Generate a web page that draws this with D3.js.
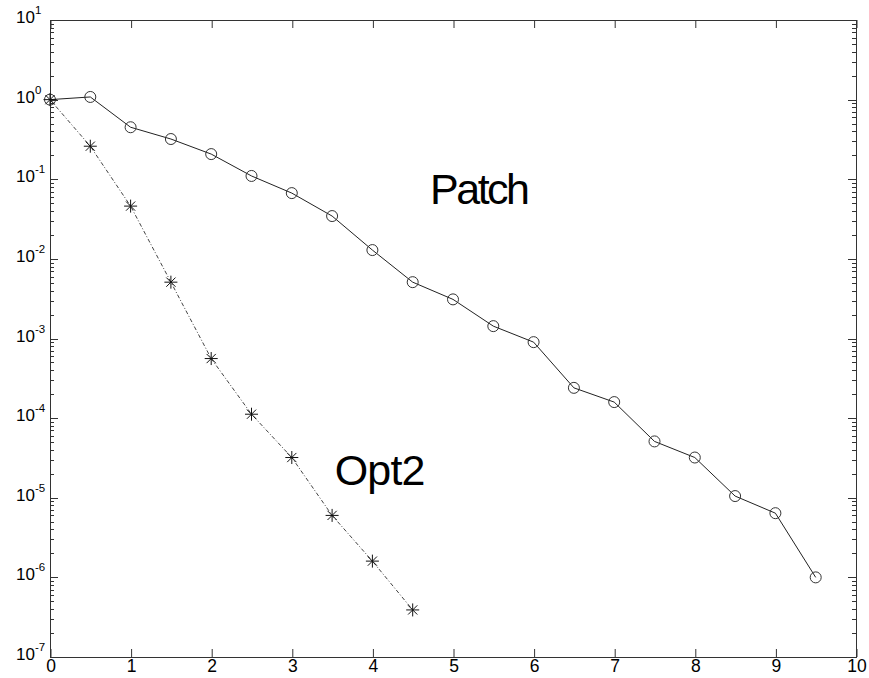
<!DOCTYPE html>
<html><head><meta charset="utf-8">
<script src="https://cdn.jsdelivr.net/npm/d3@7"></script>
<style>body{margin:0;background:#fff}svg{display:block}</style>
</head><body>
<svg id="c" width="869" height="678"></svg>
<script>
const xTicks = [0,1,2,3,4,5,6,7,8,9,10];
const yExponents = [-7,-6,-5,-4,-3,-2,-1,0,1];
const patchX = [0,0.5,1,1.5,2,2.5,3,3.5,4,4.5,5,5.5,6,6.5,7,7.5,8,8.5,9,9.5];
const patchY = [1.0,1.08,0.45,0.32,0.207,0.11,0.067,0.0345,0.0129,0.0051,0.0031,0.00143,0.0009,0.00024,0.000159,5.1e-5,3.2e-5,1.05e-5,6.4e-6,1.0e-6];
const opt2X = [0,0.5,1,1.5,2,2.5,3,3.5,4,4.5];
const opt2Y = [1.0,0.26,0.046,0.0051,5.6e-4,1.12e-4,3.2e-5,6.0e-6,1.6e-6,3.9e-7];
const labels = [{text:"Patch", x:5.32, y:0.049},{text:"Opt2", x:4.09, y:1.43e-5}];

const svg = d3.select("#c");
const L=50, R=856, T=20, B=657;
const x = d3.scaleLinear().domain([0,10]).range([L,R]);
const y = d3.scaleLog().domain([1e-7,10]).range([B,T]);
const font = "'Liberation Sans', Arial, Helvetica, sans-serif";
const axisCol = "#333";

svg.append("rect").attr("x",L+0.5).attr("y",T+0.5).attr("width",R-L).attr("height",B-T)
  .attr("fill","none").attr("stroke",axisCol).attr("stroke-width",1);

const gxb = svg.append("g").attr("transform",`translate(0.5,${B})`)
  .call(d3.axisBottom(x).tickValues(xTicks).tickSizeInner(-8).tickSizeOuter(0).tickPadding(3).tickFormat(d3.format("d")));
const gxt = svg.append("g").attr("transform",`translate(0.5,${T})`)
  .call(d3.axisTop(x).tickValues(xTicks).tickSizeInner(-8).tickSizeOuter(0).tickFormat(""));
[gxb,gxt].forEach(g=>{g.select(".domain").remove();g.selectAll("line").attr("stroke",axisCol);});
gxb.selectAll("text").attr("font-family",font).attr("font-size",17.5).attr("fill","#000");

const allY = y.ticks();
const majorSet = new Set(yExponents.map(e=>Math.pow(10,e).toExponential(3)));
function isMajor(d){return majorSet.has(d.toExponential(3));}
function yTicks(g, side){
  const sgn = side==="left"?1:-1;
  const X0 = side==="left"?L:R;
  g.selectAll("line").data(allY).join("line")
    .attr("x1",X0).attr("x2",d=>X0+sgn*(isMajor(d)?8:4))
    .attr("y1",d=>Math.round(y(d))+0.5).attr("y2",d=>Math.round(y(d))+0.5)
    .attr("stroke",axisCol).attr("stroke-width",1);
}
yTicks(svg.append("g"),"left");
yTicks(svg.append("g"),"right");

const yl = svg.append("g");
yExponents.forEach(e=>{
  const t = yl.append("text").attr("y",y(Math.pow(10,e))+3)
    .attr("font-family",font).attr("font-size",17).attr("fill","#000");
  t.append("tspan").text("10");
  t.append("tspan").attr("dy",-9).attr("font-size",11.5).text(e);
});
yl.selectAll("text").each(function(){
  const base = d3.select(this).select("tspan").node().getComputedTextLength();
  d3.select(this).attr("x", L-15-base);
});

const line = d3.line().x(d=>x(d[0])).y(d=>y(d[1]));
const patch = patchX.map((v,i)=>[v,patchY[i]]);
const opt2 = opt2X.map((v,i)=>[v,opt2Y[i]]);
svg.append("path").datum(patch).attr("d",line).attr("fill","none").attr("stroke","#222").attr("stroke-width",1);
svg.append("path").datum(opt2).attr("d",line).attr("fill","none").attr("stroke","#444").attr("stroke-width",1).attr("stroke-dasharray","4,2,1,2");

svg.append("g").selectAll("circle").data(patch).join("circle")
  .attr("cx",d=>x(d[0])).attr("cy",d=>y(d[1])).attr("r",5.5)
  .attr("fill","none").attr("stroke","#333").attr("stroke-width",1);
const star = svg.append("g").selectAll("g").data(opt2).join("g")
  .attr("transform",d=>`translate(${x(d[0])},${y(d[1])})`);
const s=6.5, s2=4.6;
[[ -s,0,s,0],[0,-s,0,s],[-s2,-s2,s2,s2],[-s2,s2,s2,-s2]].forEach(c=>{
  star.append("line").attr("x1",c[0]).attr("y1",c[1]).attr("x2",c[2]).attr("y2",c[3])
    .attr("stroke","#111").attr("stroke-width",1);
});

svg.append("g").selectAll("text").data(labels).join("text")
  .attr("x",d=>x(d.x)).attr("y",d=>y(d.y)).attr("text-anchor","middle")
  .attr("font-family",font).attr("font-size",43)
  .attr("letter-spacing",(d,i)=>i===0?-2.5:-0.8).attr("fill","#000")
  .text(d=>d.text);
</script>
</body></html>
